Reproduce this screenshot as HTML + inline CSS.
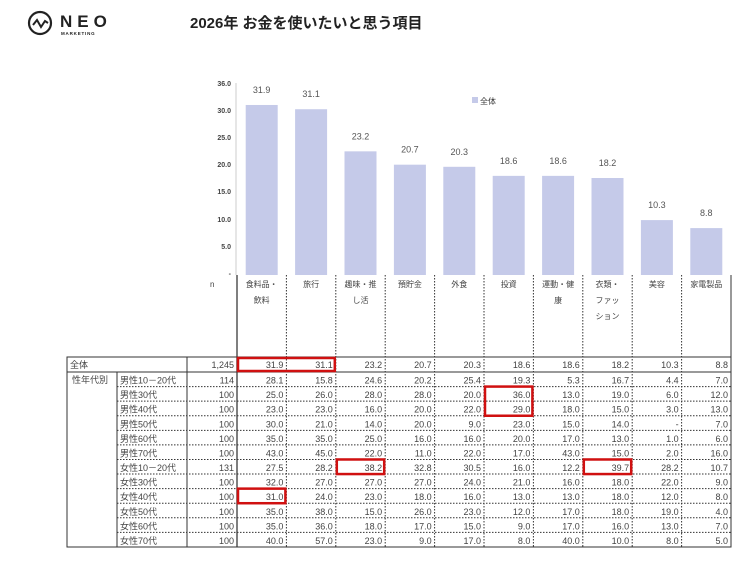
<!DOCTYPE html>
<html><head><meta charset="utf-8"><style>
body{margin:0;background:#fff;width:753px;height:564px;overflow:hidden}
svg{display:block}
text{font-family:"Liberation Sans","Noto Sans CJK JP",sans-serif}
</style></head><body>
<svg width="753" height="564" xmlns="http://www.w3.org/2000/svg">
<circle cx="40" cy="23" r="11" fill="none" stroke="#222" stroke-width="2.2"/>
<polyline points="33,25 37,20 41,27 45,21 48,23" fill="none" stroke="#222" stroke-width="2"/>
<text x="60" y="27" font-size="17" font-weight="bold" fill="#222" letter-spacing="5">NEO</text>
<text x="61" y="35" font-size="4.5" font-weight="bold" fill="#222" letter-spacing="0.8">MARKETING</text>
<text x="190" y="28" font-size="15" font-weight="bold" fill="#222">2026年 お金を使いたいと思う項目</text>
<g font-size="7" fill="#444" text-anchor="end" font-weight="bold">
<text x="231" y="86">36.0</text><text x="231" y="113">30.0</text><text x="231" y="140">25.0</text><text x="231" y="167">20.0</text><text x="231" y="194">15.0</text><text x="231" y="222">10.0</text><text x="231" y="249">5.0</text><text x="231" y="276">-</text>
</g>
<line x1="236" y1="83" x2="236" y2="275" stroke="#ccc"/>
<rect x="472" y="97" width="6" height="6" fill="#c5cae9"/>
<text x="480" y="104" font-size="8" fill="#333">全体</text>
<g fill="#c5cae9" id="bars"></g>
<g id="tbl"></g>
</svg>
<script>
const ns="http://www.w3.org/2000/svg";
function el(p,t,a,txt){const e=document.createElementNS(ns,t);for(const k in a)e.setAttribute(k,a[k]);if(txt!==undefined)e.textContent=txt;document.querySelector(p).appendChild(e);return e;}
const vals=[31.9,31.1,23.2,20.7,20.3,18.6,18.6,18.2,10.3,8.8];
const x0=237,cw=49.4,base=275,sc=5.33;
vals.forEach((v,i)=>{const cx=x0+cw*i+cw/2;const h=v*sc;
el('#bars','rect',{x:cx-16,y:base-h,width:32,height:h});
el('#bars','text',{x:cx,y:base-h-12,'font-size':9,fill:'#555','text-anchor':'middle'},v.toFixed(1));});
const heads=[["食料品・","飲料"],["旅行"],["趣味・推","し活"],["預貯金"],["外食"],["投資"],["運動・健","康"],["衣類・","ファッ","ション"],["美容"],["家電製品"]];
const T='#tbl';
el(T,'text',{x:210,y:287,'font-size':8,fill:'#444'},'n');
heads.forEach((h,i)=>{h.forEach((s,j)=>el(T,'text',{x:x0+cw*i+cw/2,y:287+j*16,'font-size':8,fill:'#444','text-anchor':'middle'},s));});
for(let i=1;i<10;i++)el(T,'line',{x1:x0+cw*i,y1:275,x2:x0+cw*i,y2:547,stroke:'#333','stroke-dasharray':'1.5,1.5','stroke-width':1});
const right=x0+cw*10;
el(T,'line',{x1:x0,y1:275,x2:x0,y2:547,stroke:'#555','stroke-width':1.5});
el(T,'line',{x1:right,y1:275,x2:right,y2:547,stroke:'#333'});
el(T,'rect',{x:67,y:357,width:right-67,height:190,fill:'none',stroke:'#333'});
el(T,'line',{x1:67,y1:372,x2:right,y2:372,stroke:'#333'});
el(T,'line',{x1:117,y1:372,x2:117,y2:547,stroke:'#333'});
el(T,'line',{x1:187,y1:357,x2:187,y2:547,stroke:'#333'});
const rows=[["男性10－20代",114,[28.1,15.8,24.6,20.2,25.4,19.3,5.3,16.7,4.4,7.0]],
["男性30代",100,[25.0,26.0,28.0,28.0,20.0,36.0,13.0,19.0,6.0,12.0]],
["男性40代",100,[23.0,23.0,16.0,20.0,22.0,29.0,18.0,15.0,3.0,13.0]],
["男性50代",100,[30.0,21.0,14.0,20.0,9.0,23.0,15.0,14.0,null,7.0]],
["男性60代",100,[35.0,35.0,25.0,16.0,16.0,20.0,17.0,13.0,1.0,6.0]],
["男性70代",100,[43.0,45.0,22.0,11.0,22.0,17.0,43.0,15.0,2.0,16.0]],
["女性10－20代",131,[27.5,28.2,38.2,32.8,30.5,16.0,12.2,39.7,28.2,10.7]],
["女性30代",100,[32.0,27.0,27.0,27.0,24.0,21.0,16.0,18.0,22.0,9.0]],
["女性40代",100,[31.0,24.0,23.0,18.0,16.0,13.0,13.0,18.0,12.0,8.0]],
["女性50代",100,[35.0,38.0,15.0,26.0,23.0,12.0,17.0,18.0,19.0,4.0]],
["女性60代",100,[35.0,36.0,18.0,17.0,15.0,9.0,17.0,16.0,13.0,7.0]],
["女性70代",100,[40.0,57.0,23.0,9.0,17.0,8.0,40.0,10.0,8.0,5.0]]];
const rh=14.58,fs=9;
el(T,'text',{x:70,y:368,'font-size':fs,fill:'#444'},'全体');
el(T,'text',{x:234,y:368,'font-size':fs,fill:'#444','text-anchor':'end'},'1,245');
vals.forEach((v,i)=>el(T,'text',{x:x0+cw*(i+1)-3,y:368,'font-size':fs,fill:'#444','text-anchor':'end'},v.toFixed(1)));
el(T,'text',{x:72,y:383,'font-size':fs,fill:'#444'},'性年代別');
rows.forEach((r,k)=>{const yt=372+rh*k, yb=yt+rh;
if(k<11)el(T,'line',{x1:117,y1:yb,x2:right,y2:yb,stroke:'#333','stroke-dasharray':'1.5,1.5'});
el(T,'text',{x:120,y:yb-3,'font-size':fs,fill:'#444'},r[0]);
el(T,'text',{x:234,y:yb-3,'font-size':fs,fill:'#444','text-anchor':'end'},r[1]);
r[2].forEach((v,i)=>el(T,'text',{x:x0+cw*(i+1)-3,y:yb-3,'font-size':fs,fill:'#444','text-anchor':'end'},v===null?'-':v.toFixed(1)));});
function box(c0,c1,r0,r1){el(T,'rect',{x:x0+cw*c0+1,y:r0,width:cw*(c1-c0)-2,height:r1-r0,fill:'none',stroke:'#d01010','stroke-width':2.5});}
box(0,2,358,371);
box(5,6,372+rh,372+rh*3);
box(2,3,372+rh*6,372+rh*7);
box(7,8,372+rh*6,372+rh*7);
box(0,1,372+rh*8,372+rh*9);
</script>
</body></html>
